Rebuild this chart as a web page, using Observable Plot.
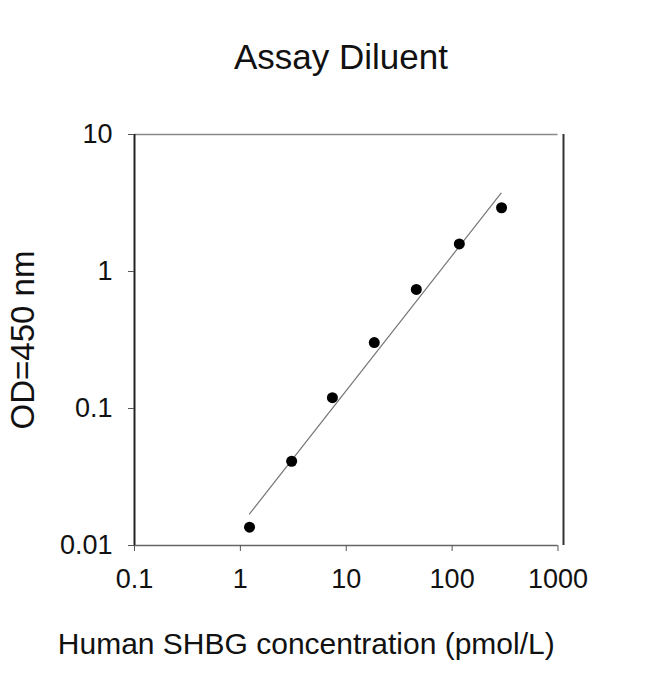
<!DOCTYPE html>
<html>
<head>
<meta charset="utf-8">
<script src="https://cdn.jsdelivr.net/npm/d3@7"></script>
<script src="https://cdn.jsdelivr.net/npm/@observablehq/plot@0.6"></script>
<style>
  body { margin: 0; background: #fff; font-family: "Liberation Sans", Arial, sans-serif; }
  #wrap { width: 650px; }
  #title { position: relative; height: 100px; }
  #title span { position: absolute; left: 0; width: 682px; top: 39px; text-align: center; font-size: 35px; line-height: 1; color: #111; }
  #chart svg { display: block; }
</style>
</head>
<body>
<div id="wrap">
  <div id="title"><span>Assay Diluent</span></div>
  <div id="chart"></div>
</div>
<script>
// standard points
const concentration = [1.22, 3.05, 7.4, 18.4, 45.9, 117, 293];
const od = [0.0136, 0.0412, 0.120, 0.303, 0.740, 1.59, 2.92];

// fitted line end points
const fitX = [1.22, 290];
const fitY = [0.0170, 3.73];

const xTicks = [0.1, 1, 10, 100, 1000];
const yTicks = [0.01, 0.1, 1, 10];

const points = concentration.map((c, i) => ({x: c, y: od[i]}));
const fit = fitX.map((c, i) => ({x: c, y: fitY[i]}));

let chart = Plot.plot({
  width: 650,
  height: 574,
  marginTop: 34,
  marginBottom: 129,
  marginLeft: 134,
  marginRight: 92.5,
  style: {fontFamily: "Liberation Sans, Arial, sans-serif", color: "#111", background: "#fff"},
  x: {type: "log", domain: [0.1, 1000]},
  y: {type: "log", domain: [0.01, 10]},
  marks: [
    // frame
    Plot.ruleY([10], {stroke: "#888", strokeWidth: 1.5}),
    Plot.ruleY([0.01], {stroke: "#666", strokeWidth: 1.5, x1: 0.1, x2: 1000}),
    Plot.ruleX([0.1], {stroke: "#222", strokeWidth: 2}),
    Plot.ruleX([1000], {stroke: "#333", strokeWidth: 2, dx: 5.5}),
    Plot.axisX({ticks: xTicks, tickFormat: d => String(d), tickSize: 6, tickPadding: 17, fontSize: 27, stroke: "#555", label: null}),
    Plot.axisY({ticks: yTicks, tickFormat: d => String(d), tickSize: 6, tickPadding: 16, fontSize: 27, stroke: "#555", label: null}),
    Plot.line(fit, {x: "x", y: "y", stroke: "#777", strokeWidth: 1.2}),
    Plot.dot(points, {x: "x", y: "y", r: 5.5, fill: "#000", stroke: "none"}),
    // axis titles
    Plot.text(["OD=450 nm"], {frameAnchor: "left", textAnchor: "middle", dx: -111, rotate: -90, fontSize: 33, fill: "#111"}),
    Plot.text(["Human SHBG concentration (pmol/L)"], {frameAnchor: "bottom", dx: -40, dy: 108, fontSize: 30, fill: "#111"})
  ]
});

d3.select('#chart').append(() => chart);
</script>
</body>
</html>
